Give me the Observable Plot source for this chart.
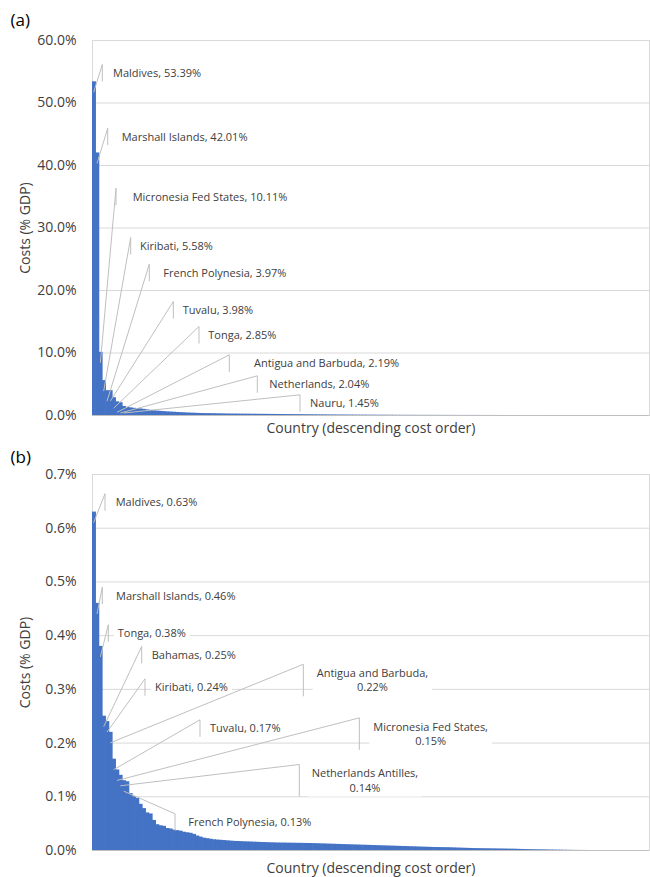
<!DOCTYPE html>
<html>
<head>
<meta charset="utf-8">
<script src="https://cdn.jsdelivr.net/npm/d3@7"></script>
<script src="https://cdn.jsdelivr.net/npm/@observablehq/plot@0.6"></script>
<style>
  body { margin: 0; background: #fff; }
  #chart svg { display: block; }
</style>
</head>
<body>
<div id="chart"></div>
<script>
// ---- Data -------------------------------------------------------------
// (a) costs as % of GDP, countries in descending cost order (rank 1..167)
const costsA = [
  53.39, 42.01, 10.11, 5.58, 3.97, 3.98, 2.85, 2.19, 2.04, 1.45,
  1.30, 1.22, 1.15, 1.10, 1.05, 0.98, 0.90, 0.82, 0.75, 0.70,
  0.66, 0.62, 0.58, 0.55, 0.52, 0.49, 0.46, 0.43, 0.40, 0.38,
  0.36, 0.34, 0.32, 0.31, 0.30, 0.29, 0.28, 0.27, 0.26, 0.25,
  0.24, 0.235, 0.23, 0.225, 0.22, 0.215, 0.21, 0.205, 0.20, 0.195,
  0.19, 0.185, 0.18, 0.175, 0.17, 0.165, 0.16, 0.155, 0.15, 0.145,
  0.14, 0.135, 0.13, 0.125, 0.12, 0.115, 0.11, 0.105, 0.10, 0.096,
  0.092, 0.088, 0.084, 0.080, 0.077, 0.074, 0.071, 0.068, 0.065, 0.062,
  0.059, 0.056, 0.053, 0.050, 0.048, 0.046, 0.044, 0.042, 0.040, 0.038,
  0.036, 0.034, 0.032, 0.030, 0.028, 0.026, 0.025, 0.024, 0.023, 0.022,
  0.021, 0.020, 0.019, 0.018, 0.017, 0.016, 0.015, 0.014, 0.013, 0.012,
  0.011, 0.010, 0.0095, 0.009, 0.0085, 0.008, 0.0075, 0.007, 0.0065, 0.006,
  0.0055, 0.005, 0.0045, 0.004, 0.0036, 0.0032, 0.0028, 0.0025, 0.0022, 0.002,
  0.0018, 0.0016, 0.0014, 0.0012, 0.001, 0.0009, 0.0008, 0.0007, 0.0006, 0.0005,
  0.0004, 0.0003, 0.0002, 0.0001, 0, 0, 0, 0, 0, 0,
  0, 0, 0, 0, 0, 0, 0, 0, 0, 0,
  0, 0, 0, 0, 0, 0, 0
];

// (b) costs as % of GDP, second ranking (rank 1..167)
const costsB = [
  0.63, 0.46, 0.38, 0.25, 0.24, 0.22, 0.17, 0.15, 0.14, 0.13,
  0.128, 0.106, 0.100, 0.097, 0.086, 0.078, 0.070, 0.068, 0.056, 0.048,
  0.046, 0.045, 0.041, 0.040, 0.038, 0.037, 0.036, 0.034, 0.033, 0.032,
  0.030, 0.027, 0.025, 0.023, 0.022, 0.021, 0.020, 0.0195, 0.019, 0.0185,
  0.018, 0.0175, 0.017, 0.0168, 0.0165, 0.0162, 0.016, 0.0158, 0.0155, 0.0153,
  0.015, 0.0148, 0.0146, 0.0144, 0.0142, 0.014, 0.0139, 0.0138, 0.0137, 0.0136,
  0.0135, 0.0134, 0.0133, 0.0132, 0.0131, 0.013, 0.0128, 0.0126, 0.0124, 0.0122,
  0.012, 0.0118, 0.0116, 0.0114, 0.0112, 0.011, 0.0108, 0.0106, 0.0104, 0.0102,
  0.010, 0.0098, 0.0096, 0.0094, 0.0092, 0.009, 0.0088, 0.0086, 0.0084, 0.0082,
  0.008, 0.0078, 0.0076, 0.0074, 0.0072, 0.007, 0.0068, 0.0066, 0.0064, 0.0062,
  0.006, 0.0058, 0.0056, 0.0055, 0.0054, 0.0053, 0.0052, 0.005, 0.0048, 0.0046,
  0.0044, 0.0042, 0.004, 0.0038, 0.0036, 0.0035, 0.0034, 0.0033, 0.0032, 0.0031,
  0.003, 0.0029, 0.0028, 0.0027, 0.0026, 0.0025, 0.0024, 0.0022, 0.002, 0.0018,
  0.0016, 0.0015, 0.0014, 0.0013, 0.0012, 0.0011, 0.001, 0.0009, 0.0008, 0.0007,
  0.0006, 0.0005, 0.0004, 0.0003, 0.0002, 0.0002, 0.0001, 0.0001, 0, 0,
  0, 0, 0, 0, 0, 0, 0, 0, 0, 0,
  0, 0, 0, 0, 0, 0, 0
];

// Named countries and their rank in each ranking
const namesA = ["Maldives", "Marshall Islands", "Micronesia Fed States", "Kiribati",
  "French Polynesia", "Tuvalu", "Tonga", "Antigua and Barbuda", "Netherlands", "Nauru"];
const ranksA = [1, 2, 3, 4, 5, 6, 7, 8, 9, 10];

const namesB = ["Maldives", "Marshall Islands", "Tonga", "Bahamas", "Kiribati",
  "Antigua and Barbuda", "Tuvalu", "Micronesia Fed States", "Netherlands Antilles", "French Polynesia"];
const ranksB = [1, 2, 3, 4, 5, 6, 7, 8, 9, 10];

const yTicksA = [0, 10, 20, 30, 40, 50, 60];
const yTicksB = [0, 0.1, 0.2, 0.3, 0.4, 0.5, 0.6, 0.7];

const xTitle = "Country (descending cost order)";
const yTitle = "Costs (% GDP)";

// Callout placement: accent bar x (rank units), label centre y (% units),
// gap from accent to text (px), and whether the label wraps onto two lines.
const placeA = [
  {ax: 3.09, ty: 54.72, gap: 10.7},
  {ax: 4.71, ty: 44.53, gap: 14},
  {ax: 7.20, ty: 34.93, gap: 16.7},
  {ax: 11.60, ty: 27.04, gap: 9.3},
  {ax: 17.18, ty: 22.77, gap: 14},
  {ax: 24.38, ty: 16.8, gap: 9.4},
  {ax: 32.08, ty: 12.8, gap: 9.3},
  {ax: 41.17, ty: 8.27, gap: 24.7},
  {ax: 49.57, ty: 4.91, gap: 12},
  {ax: 62.37, ty: 1.87, gap: 10}
];
const placeB = [
  {ax: 3.90, ty: 0.6474, gap: 10.7},
  {ax: 3.09, ty: 0.4735, gap: 13.7},
  {ax: 4.89, ty: 0.4035, gap: 9.4},
  {ax: 14.90, ty: 0.3631, gap: 10},
  {ax: 15.89, ty: 0.3029, gap: 10},
  {ax: 63.36, ty: 0.3160, gap: 13.4, wrap: true},
  {ax: 32.38, ty: 0.2266, gap: 10},
  {ax: 80.15, ty: 0.2162, gap: 14, wrap: true},
  {ax: 62.16, ty: 0.1294, gap: 12.4, wrap: true},
  {ax: 24.89, ty: 0.0516, gap: 13.3}
];

// ---- Styling ----------------------------------------------------------
const FONT = '"Open Sans", sans-serif';
const BLUE = "#4472C4";
const GRID = "#d9d9d9";
const INK = "#404040";
const LEADER = "#bfbfbf";
const LABEL_SIZE = 11;

const measure = document.createElement("canvas").getContext("2d");
measure.font = `${LABEL_SIZE}px "Open Sans"`;
const textWidth = (s) => measure.measureText(s).width;

// Data callouts: leader from the bar top to a short accent bar, and a
// white-backed label to its right.
function callouts(names, ranks, costs, place) {
  return (index, scales) => {
    const sx = scales.x, sy = scales.y;
    const base = sy(0);
    const items = names.map((name, i) => {
      const rank = ranks[i];
      const value = costs[rank - 1];
      const p = place[i];
      const valueText = `${value.toFixed(2)}%`;
      const lines = p.wrap ? [`${name},`, valueText] : [`${name}, ${valueText}`];
      const ax = sx(p.ax);
      const cy = sy(p.ty);
      const half = p.wrap ? 16 : 8.5;
      const tx = ax + p.gap;
      const w = Math.max(...lines.map(textWidth));
      return {
        ax, cy, half, tx, w, lines,
        anchorX: sx(rank - 0.5),
        anchorY: Math.min(sy(value) + 11, base - 2)
      };
    });
    const g = d3.create("svg:g");
    // white label boxes
    g.selectAll("rect.box").data(items).join("rect")
      .attr("x", d => d.tx - 4).attr("width", d => d.w + 8)
      .attr("y", d => d.cy - d.half).attr("height", d => d.half * 2)
      .attr("fill", "#fff");
    // leader lines
    g.selectAll("line.leader").data(items).join("line")
      .attr("x1", d => d.anchorX).attr("y1", d => d.anchorY)
      .attr("x2", d => d.ax).attr("y2", d => d.cy - d.half)
      .attr("stroke", LEADER).attr("stroke-width", 1);
    // accent bars
    g.selectAll("line.accent").data(items).join("line")
      .attr("x1", d => d.ax).attr("x2", d => d.ax)
      .attr("y1", d => d.cy - d.half).attr("y2", d => d.cy + d.half)
      .attr("stroke", LEADER).attr("stroke-width", 1);
    // label text
    const t = g.selectAll("text").data(items).join("text")
      .attr("font-family", FONT).attr("font-size", LABEL_SIZE)
      .attr("fill", INK);
    t.each(function (d) {
      const el = d3.select(this);
      if (d.lines.length === 1) {
        el.attr("text-anchor", "start")
          .attr("x", d.tx).attr("y", d.cy).attr("dy", "0.35em").text(d.lines[0]);
      } else {
        const mid = d.tx + d.w / 2;
        el.attr("text-anchor", "middle");
        el.append("tspan").attr("x", mid).attr("y", d.cy - 7.2).attr("dy", "0.35em").text(d.lines[0]);
        el.append("tspan").attr("x", mid).attr("y", d.cy + 7.2).attr("dy", "0.35em").text(d.lines[1]);
      }
    });
    return g.node();
  };
}

function panel({tag, costs, names, ranks, place, ticks, height, marginTop, marginBottom}) {
  const rows = costs.map((value, i) => ({rank: i + 1, value}));
  const n = costs.length;
  const yMax = ticks[ticks.length - 1];
  return Plot.plot({
    width: 650,
    height,
    marginTop,
    marginBottom,
    marginLeft: 92,
    marginRight: 1,
    style: {fontFamily: FONT, fontSize: "14px", color: INK, background: "#fff"},
    x: {domain: [0, n], axis: null},
    y: {
      domain: [0, yMax],
      ticks,
      tickFormat: d => `${d.toFixed(1)}%`,
      tickSize: 0,
      tickPadding: 16,
      label: null
    },
    marks: [
      Plot.ruleY(ticks.filter(t => t > 0), {stroke: GRID, strokeWidth: 1}),
      Plot.frame({stroke: GRID}),
      // contiguous columns; a slight overlap hides anti-aliasing seams
      Plot.rectY(rows, {
        x1: d => d.rank - 1,
        x2: d => d.rank,
        y: "value",
        fill: BLUE,
        insetRight: -0.6
      }),
      Plot.ruleY([0], {stroke: "#bfbfbf", strokeWidth: 1.2}),
      callouts(names, ranks, costs, place),
      Plot.text([tag], {
        frameAnchor: "top-left", dx: -82, dy: -marginTop + 20,
        textAnchor: "start", lineAnchor: "middle",
        fontSize: 17, fill: "#000"
      }),
      Plot.text([yTitle], {
        frameAnchor: "left", dx: -67, rotate: -90,
        textAnchor: "middle", lineAnchor: "middle", fontSize: 14, fill: INK
      }),
      Plot.text([xTitle], {
        frameAnchor: "bottom", dy: marginBottom - 5,
        textAnchor: "middle", lineAnchor: "bottom", fontSize: 14, fill: INK
      })
    ]
  });
}

const root = document.getElementById("chart");
root.append(panel({
  tag: "(a)", costs: costsA, names: namesA, ranks: ranksA, place: placeA,
  ticks: yTicksA, height: 437, marginTop: 40, marginBottom: 22
}));
root.append(panel({
  tag: "(b)", costs: costsB, names: namesB, ranks: ranksB, place: placeB,
  ticks: yTicksB, height: 440, marginTop: 37, marginBottom: 27
}));
</script>
</body>
</html>
